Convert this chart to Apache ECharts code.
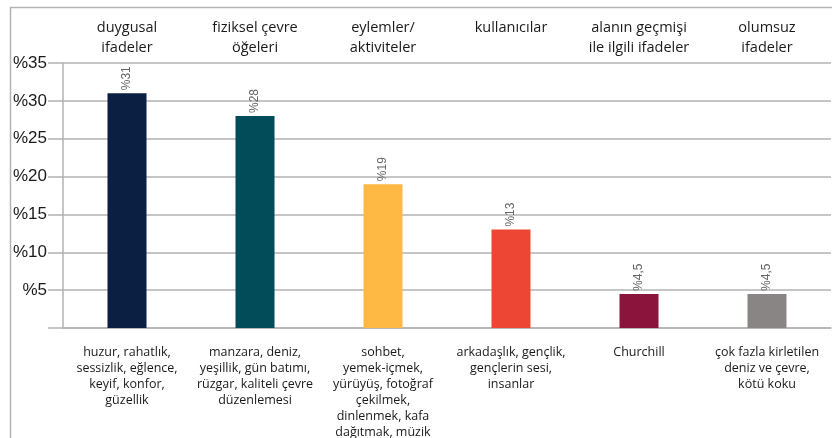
<!DOCTYPE html>
<html>
<head>
<meta charset="utf-8">
<script src="https://cdn.jsdelivr.net/npm/echarts@6/dist/echarts.min.js"></script>
<style>
  html, body { margin: 0; padding: 0; background: #fff; }
  #chart { width: 834px; height: 438px; }
</style>
</head>
<body>
<div id="chart"></div>
<script>
// kategori başlıkları (üst) ve örnek ifadeler (alt)
var topLabels = ['duygusal\nifadeler', 'fiziksel çevre\nöğeleri', 'eylemler/\naktiviteler', 'kullanıcılar', 'alanın geçmişi\nile ilgili ifadeler', 'olumsuz\nifadeler'];
var bottomLabels = [
    'huzur, rahatlık,\nsessizlik, eğlence,\nkeyif, konfor,\ngüzellik',
    'manzara, deniz,\nyeşillik, gün batımı,\nrüzgar, kaliteli çevre\ndüzenlemesi',
    'sohbet,\nyemek-içmek,\nyürüyüş, fotoğraf\nçekilmek,\ndinlenmek, kafa\ndağıtmak, müzik',
    'arkadaşlık, gençlik,\ngençlerin sesi,\ninsanlar',
    'Churchill',
    'çok fazla kirletilen\ndeniz ve çevre,\nkötü koku'
];
var values = [31, 28, 19, 13, 4.5, 4.5];
var colors = ['#0a1f41', '#024b58', '#fdb943', '#ee4634', '#8b143c', '#8a8585'];
var yTicks = [0, 5, 10, 15, 20, 25, 30, 35];

var gridColor = '#b3b3b3';

var myChart = echarts.init(document.getElementById('chart'));

var option = {
    animation: false,
    grid: { left: 63, right: 3, top: 63, bottom: 110, outerBoundsMode: 'none', containLabel: false },
    graphic: [{
        type: 'polyline',
        shape: { points: [[10.5, 438], [10.5, 7.5], [832, 7.5]] },
        style: { stroke: gridColor, lineWidth: 1.5, fill: null }
    }],
    xAxis: [
        {
            type: 'category',
            position: 'bottom',
            data: bottomLabels,
            axisLine: { lineStyle: { color: gridColor, width: 1.5 } },
            axisTick: {
                length: 15,
                lineStyle: { color: gridColor, width: 1.5 },
                // ilk ve son sınırdaki çentik yok
                interval: function (i) { return i > 0 && i < bottomLabels.length; }
            },
            axisLabel: {
                interval: 0,
                margin: 16,
                verticalAlign: 'top',
                color: '#1a1a1a',
                fontFamily: 'Open Sans',
                fontSize: 12.5,
                lineHeight: 16
            }
        },
        {
            type: 'category',
            position: 'top',
            data: topLabels,
            axisLine: { show: false },
            axisTick: { show: false },
            axisLabel: {
                interval: 0,
                margin: 45,
                verticalAlign: 'top',
                color: '#1a1a1a',
                fontFamily: 'Open Sans',
                fontSize: 14.5,
                lineHeight: 20
            }
        }
    ],
    yAxis: {
        type: 'value',
        min: yTicks[0],
        max: yTicks[yTicks.length - 1],
        interval: 5,
        axisLine: { show: true, lineStyle: { color: gridColor, width: 1.5 } },
        axisTick: { show: true, length: 15, lineStyle: { color: gridColor, width: 1.5 } },
        splitLine: { lineStyle: { color: gridColor, width: 1.5 } },
        axisLabel: {
            margin: 16,
            color: '#1a1a1a',
            fontFamily: 'Liberation Sans',
            fontSize: 17,
            verticalAlign: 'middle',
            padding: [0, 0, 4, 0],
            formatter: function (v) { return v === 0 ? '' : '%' + v; }
        }
    },
    series: [{
        type: 'bar',
        xAxisIndex: 0,
        barWidth: 39,
        data: values.map(function (v, i) {
            return { value: v, itemStyle: { color: colors[i] } };
        }),
        label: {
            show: true,
            position: 'top',
            rotate: 90,
            distance: 3,
            align: 'left',
            verticalAlign: 'middle',
            color: '#666',
            fontFamily: 'Liberation Sans',
            fontSize: 12,
            formatter: function (p) { return '%' + String(p.value).replace('.', ','); }
        }
    }]
};

myChart.setOption(option);
</script>
</body>
</html>
